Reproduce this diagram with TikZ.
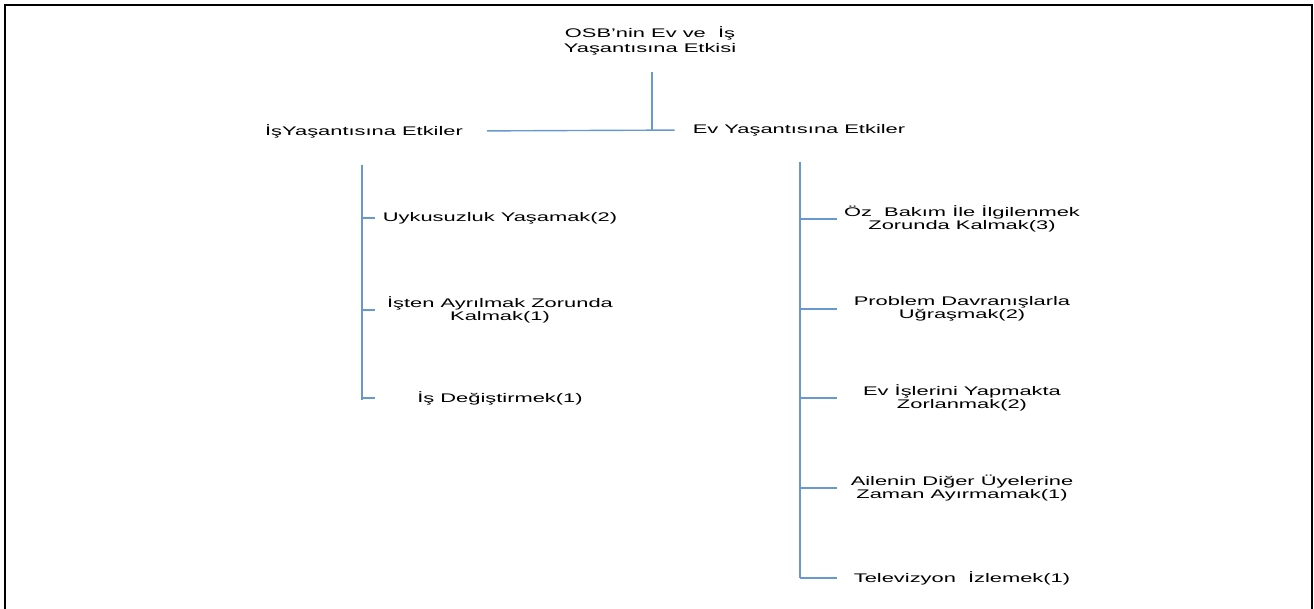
\documentclass[tikz,border=0pt]{standalone}
\usepackage{fontspec}
\setmainfont{Liberation Sans}[FakeStretch=1.75]
\usepackage{tikz}

\definecolor{linkblue}{RGB}{104,152,208}

\tikzset{
    conn/.style={draw=linkblue, line width=1.4pt},
    lbl/.style={font=\fontsize{12.5}{12.5}\selectfont, text=black, align=center, inner sep=2pt},
}

\begin{document}
\begin{tikzpicture}[x=1pt, y=-1pt]
    \useasboundingbox (0,0) rectangle (1314,608);
    \draw[line width=2.2pt] (5,610) -- (5,5) -- (1312,5) -- (1312,610);

    % root and the two branches
    \node[lbl, font=\fontsize{12.5}{14.5}\selectfont] (root) at (650,41) {OSB'nin Ev ve~~İş\\Yaşantısına Etkisi};
    \node[lbl] (is) at (364,131) {İşYaşantısına Etkiler};
    \node[lbl] (ev) at (799,130) {Ev Yaşantısına Etkiler};
    \coordinate (hub) at (652,130);
    \coordinate (rootend) at (652,72);
    \draw[conn] (rootend) -- (hub);
    \draw[conn, shorten <=22pt, shorten >=16pt] (is.east) -- (ev.west);

    % work side
    \coordinate (isTop) at (362,165);
    \coordinate (isBot) at (362,400);
    \draw[conn] (isTop) -- (isBot);
    \foreach \y/\name/\txt in {218/u/Uykusuzluk Yaşamak(2),
                               310/a/İşten Ayrılmak Zorunda\\Kalmak(1),
                               398/d/İş Değiştirmek(1)} {
        \node[lbl] (\name) at (500,\y) {\txt};
        \draw[conn] (362,\y) -- ++(13,0);
    }

    % home side
    \coordinate (evTop) at (800,162);
    \coordinate (evBot) at (800,578);
    \draw[conn] (evTop) -- (evBot);
    \foreach \y/\name/\txt in {219/oz/Öz~~Bakım İle İlgilenmek\\Zorunda Kalmak(3),
                               309/pr/Problem Davranışlarla\\Uğraşmak(2),
                               398/ei/Ev İşlerini Yapmakta\\Zorlanmak(2),
                               488/ai/Ailenin Diğer Üyelerine\\Zaman Ayırmamak(1),
                               578/tv/Televizyon~~İzlemek(1)} {
        \node[lbl] (\name) at (962,\y) {\txt};
        \draw[conn] (800,\y) -- ++(37,0);
    }
\end{tikzpicture}
\end{document}
